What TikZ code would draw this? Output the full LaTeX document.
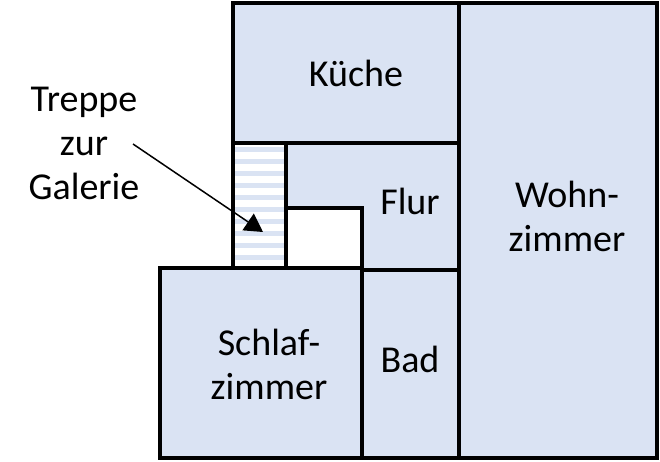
\documentclass[tikz,border=0pt]{standalone}
\usepackage{fontspec}
\setmainfont{Carlito}
\usetikzlibrary{arrows.meta}
\definecolor{room}{HTML}{DAE3F3}
\begin{document}
\begin{tikzpicture}[x=1pt,y=-1pt,
  wall/.style={draw=black,line width=4.5pt,fill=room},
  lbl/.style={font=\fontsize{38}{44}\selectfont,align=center}]
\useasboundingbox (0,0) rectangle (660,461);
\fill[white] (0,0) rectangle (660,461);
% rooms
\draw[wall] (459,3) rectangle (657,458);
\draw[wall] (233,3) rectangle (459,143);
\draw[wall] (286,143) -- (459,143) -- (459,270) -- (362,270) -- (362,208) -- (286,208) -- cycle;
\draw[wall,fill=white] (286,208) rectangle (362,270);
% stairs
\fill[white] (233,143) rectangle (286,268);
\foreach \i in {0,...,9} \fill[room] (235,147+12*\i) rectangle (284,152+12*\i);
\draw[line width=4.5pt] (233,143) rectangle (286,268);
\draw[wall] (160,268) rectangle (362,458);
\draw[wall] (362,270) rectangle (459,458);
% labels
\node[lbl] (kue) at (356,73) {Küche};
\node[lbl] (flur) at (410,201) {Flur};
\node[lbl] (wohn) at (567,216) {Wohn-\\zimmer};
\node[lbl] (schl) at (269,364) {Schlaf-\\zimmer};
\node[lbl] (bad) at (410,359) {Bad};
\node[lbl] (tre) at (84,143) {Treppe\\zur\\Galerie};
\coordinate (tip) at (263,232);
\draw[line width=1.5pt,-{Triangle[length=18pt,width=20pt]}] (133,144) -- (tip);
\end{tikzpicture}
\end{document}
